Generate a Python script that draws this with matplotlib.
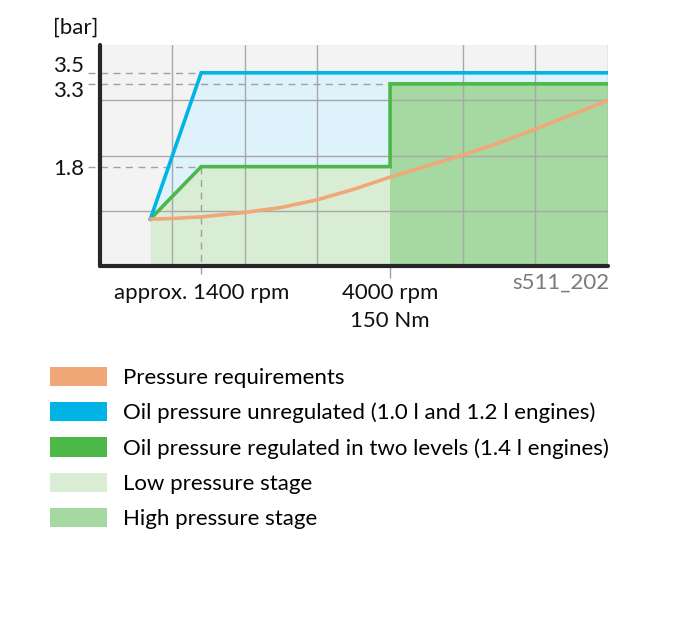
import numpy as np
import matplotlib
matplotlib.use("Agg")
import matplotlib.pyplot as plt
from matplotlib.patches import Patch
from matplotlib.transforms import ScaledTranslation, blended_transform_factory

plt.rcParams['font.family'] = ['Lato', 'DejaVu Sans']

# ---- data (x in 1000 rpm, y in bar) ----
req_x = [0.7, 1.0, 1.4, 2.0, 2.5, 3.0, 3.5, 4.0, 4.5, 5.0, 5.5, 6.0, 6.5, 7.0]
req_y = [0.85, 0.86, 0.89, 0.97, 1.06, 1.20, 1.39, 1.61, 1.81, 2.01, 2.23, 2.48, 2.74, 3.00]

unreg_x = [0.7, 1.4, 7.0]
unreg_y = [0.85, 3.5, 3.5]

reg_x = [0.7, 1.4, 4.0, 4.0, 7.0]
reg_y = [0.85, 1.8, 1.8, 3.3, 3.3]

low_x = [0.7, 1.4, 4.0]
low_y = [0.85, 1.8, 1.8]
high_x = [4.0, 7.0]
high_y = [3.3, 3.3]

ytick_vals = [1.8, 3.3, 3.5]
ytick_labels = ['1.8', '3.3', '3.5']
xtick_vals = [1.4, 4.0]
xtick_labels = ['approx. 1400 rpm', '4000 rpm\n150 Nm']

legend_labels = ['Pressure requirements',
                 'Oil pressure unregulated (1.0 l and 1.2 l engines)',
                 'Oil pressure regulated in two levels (1.4 l engines)',
                 'Low pressure stage',
                 'High pressure stage']

c_orange = '#f0a878'
c_blue = '#00b4e6'
c_green = '#4cb848'
c_lightblue = '#ddf2fa'
c_low = '#d9edd5'
c_high = '#a6d8a1'
c_grid = '#a8a8a8'
c_dash = '#a0a0a0'
c_spine = '#262626'

W, H = 682, 624
fig = plt.figure(figsize=(W / 100, H / 100), dpi=100)
left, right, bottom, top = 99.5, 608, 266, 45.2
ax = fig.add_axes([left / W, 1 - bottom / H, (right - left) / W, (bottom - top) / H])
ax.set_facecolor('#f3f3f3')
ax.set_xlim(0, 7)
ax.set_ylim(0, 4)

# fills
ax.fill_between(low_x, low_y, 0, color=c_low, lw=0, zorder=1)
ax.fill_between(high_x, high_y, 0, color=c_high, lw=0, zorder=1)
ax.fill(np.r_[unreg_x, reg_x[::-1]], np.r_[unreg_y, reg_y[::-1]],
        color=c_lightblue, lw=0, zorder=1)

# grid
ax.set_axisbelow(False)
ax.set_xticks(range(1, 8), minor=True)
ax.set_yticks([1, 2, 3], minor=True)
ax.grid(True, which='minor', color=c_grid, lw=1.0)
ax.tick_params(which='minor', length=0)

# dashed reference lines (extend a little left of the axis)
trans_y = blended_transform_factory(ax.transAxes, ax.transData)
dx = -12 / (right - left)
for yv, xe in [(3.5, 1.4), (3.3, 4.0), (1.8, 1.4)]:
    xend = xe / 7.0
    ax.plot([dx, xend], [yv, yv], transform=trans_y, ls=(0, (5, 4)),
            color=c_dash, lw=1.0, clip_on=False, zorder=2.6)
ax.plot([1.4, 1.4], [1.8, -0.22], ls=(0, (5, 4)), color=c_dash, lw=1.0,
        clip_on=False, zorder=2.6)

# lines
ax.plot(req_x, req_y, color=c_orange, lw=2.6, zorder=4, solid_capstyle='round')
ax.plot(reg_x, reg_y, color=c_green, lw=2.6, zorder=3, solid_joinstyle='miter')
ax.plot(unreg_x, unreg_y, color=c_blue, lw=2.6, zorder=3.5, solid_joinstyle='miter')

# spines
for s in ['top', 'right']:
    ax.spines[s].set_visible(False)
for s in ['left', 'bottom']:
    ax.spines[s].set_linewidth(3.0)
    ax.spines[s].set_color(c_spine)
    ax.spines[s].set_capstyle('round')
    ax.spines[s].set_zorder(5)

FS = 16
# ticks
ax.set_yticks(ytick_vals)
ax.set_yticklabels(ytick_labels, fontsize=FS, color='#111111')
ax.tick_params(axis='y', which='major', length=0, pad=11)
offsets = {'3.5': 9, '3.3': -5, '1.8': 0}
for lab in ax.get_yticklabels():
    off = offsets.get(lab.get_text(), 0)
    lab.set_transform(lab.get_transform() + ScaledTranslation(0, off / 100, fig.dpi_scale_trans))

ax.set_xticks(xtick_vals)
ax.set_xticklabels(xtick_labels, fontsize=FS, color='#111111', linespacing=1.5)
ax.tick_params(axis='x', which='major', length=8.5, width=1.0, color=c_dash, pad=3.5)
ax.xaxis.get_major_ticks()[0].tick1line.set_visible(False)

# unit label and figure code
ax.text(-0.092, 1.0 + 18 / (bottom - top), '[bar]', transform=ax.transAxes,
        fontsize=FS, ha='left', va='center', color='#111111')
ax.text(1.002, -17 / (bottom - top), 's511_202', transform=ax.transAxes,
        fontsize=FS, ha='right', va='center', color='#7a7a7a')

# legend
handles = [Patch(facecolor=c, edgecolor='none') for c in
           [c_orange, c_blue, c_green, c_low, c_high]]
fig.legend(handles, legend_labels, loc='upper left',
           bbox_to_anchor=(50 / W, 1 - 367 / H), frameon=False,
           fontsize=FS, handlelength=2.57, handleheight=0.95,
           handletextpad=0.72, labelspacing=0.63, borderpad=0,
           borderaxespad=0)

fig.savefig('out.png', dpi=100, facecolor='white')
